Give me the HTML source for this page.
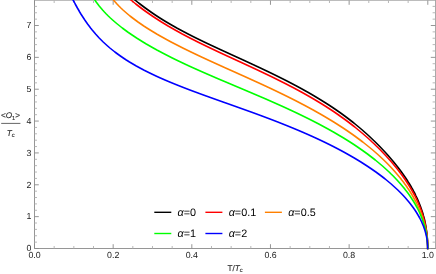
<!DOCTYPE html>
<html><head><meta charset="utf-8"><style>
html,body{margin:0;padding:0;background:#fff;}
svg{display:block;font-family:"Liberation Sans",sans-serif;will-change:transform;text-rendering:geometricPrecision;}
</style></head><body>
<svg width="436" height="274" viewBox="0 0 436 274">
<rect width="436" height="274" fill="#fff"/>
<defs><clipPath id="c"><rect x="34.5" y="0.0" width="401.0" height="249.3"/></clipPath></defs>
<path d="M34.5,0 V248.5 H435.5" fill="none" stroke="#8a8a8a" stroke-width="0.9"/><path d="M435.6,0 V248.95" fill="none" stroke="#959595" stroke-width="0.9"/><path d="M34.0,0.3 H436.0" stroke="#a2a2a2" stroke-width="0.9" fill="none"/>
<path d="M34.50,248.5 v-4.3 M34.50,0.5 v4.3 M113.16,248.5 v-4.3 M113.16,0.5 v4.3 M191.82,248.5 v-4.3 M191.82,0.5 v4.3 M270.48,248.5 v-4.3 M270.48,0.5 v4.3 M349.14,248.5 v-4.3 M349.14,0.5 v4.3 M427.80,248.5 v-4.3 M427.80,0.5 v4.3 M34.5,248.50 h4.3 M435.5,248.50 h-4.7 M34.5,216.64 h4.3 M435.5,216.64 h-4.7 M34.5,184.79 h4.3 M435.5,184.79 h-4.7 M34.5,152.93 h4.3 M435.5,152.93 h-4.7 M34.5,121.07 h4.3 M435.5,121.07 h-4.7 M34.5,89.22 h4.3 M435.5,89.22 h-4.7 M34.5,57.36 h4.3 M435.5,57.36 h-4.7 M34.5,25.50 h4.3 M435.5,25.50 h-4.7" fill="none" stroke="#8a8a8a" stroke-width="0.9"/><path d="M54.17,248.5 v-2.5 M54.17,0.5 v2.5 M73.83,248.5 v-2.5 M73.83,0.5 v2.5 M93.50,248.5 v-2.5 M93.50,0.5 v2.5 M132.82,248.5 v-2.5 M132.82,0.5 v2.5 M152.49,248.5 v-2.5 M152.49,0.5 v2.5 M172.16,248.5 v-2.5 M172.16,0.5 v2.5 M211.49,248.5 v-2.5 M211.49,0.5 v2.5 M231.15,248.5 v-2.5 M231.15,0.5 v2.5 M250.82,248.5 v-2.5 M250.82,0.5 v2.5 M290.14,248.5 v-2.5 M290.14,0.5 v2.5 M309.81,248.5 v-2.5 M309.81,0.5 v2.5 M329.48,248.5 v-2.5 M329.48,0.5 v2.5 M368.81,248.5 v-2.5 M368.81,0.5 v2.5 M388.47,248.5 v-2.5 M388.47,0.5 v2.5 M408.14,248.5 v-2.5 M408.14,0.5 v2.5 M34.5,242.13 h2.5 M435.5,242.13 h-2.9 M34.5,235.76 h2.5 M435.5,235.76 h-2.9 M34.5,229.39 h2.5 M435.5,229.39 h-2.9 M34.5,223.01 h2.5 M435.5,223.01 h-2.9 M34.5,210.27 h2.5 M435.5,210.27 h-2.9 M34.5,203.90 h2.5 M435.5,203.90 h-2.9 M34.5,197.53 h2.5 M435.5,197.53 h-2.9 M34.5,191.16 h2.5 M435.5,191.16 h-2.9 M34.5,178.41 h2.5 M435.5,178.41 h-2.9 M34.5,172.04 h2.5 M435.5,172.04 h-2.9 M34.5,165.67 h2.5 M435.5,165.67 h-2.9 M34.5,159.30 h2.5 M435.5,159.30 h-2.9 M34.5,146.56 h2.5 M435.5,146.56 h-2.9 M34.5,140.19 h2.5 M435.5,140.19 h-2.9 M34.5,133.81 h2.5 M435.5,133.81 h-2.9 M34.5,127.44 h2.5 M435.5,127.44 h-2.9 M34.5,114.70 h2.5 M435.5,114.70 h-2.9 M34.5,108.33 h2.5 M435.5,108.33 h-2.9 M34.5,101.96 h2.5 M435.5,101.96 h-2.9 M34.5,95.59 h2.5 M435.5,95.59 h-2.9 M34.5,82.84 h2.5 M435.5,82.84 h-2.9 M34.5,76.47 h2.5 M435.5,76.47 h-2.9 M34.5,70.10 h2.5 M435.5,70.10 h-2.9 M34.5,63.73 h2.5 M435.5,63.73 h-2.9 M34.5,50.99 h2.5 M435.5,50.99 h-2.9 M34.5,44.62 h2.5 M435.5,44.62 h-2.9 M34.5,38.24 h2.5 M435.5,38.24 h-2.9 M34.5,31.87 h2.5 M435.5,31.87 h-2.9 M34.5,19.13 h2.5 M435.5,19.13 h-2.9 M34.5,12.76 h2.5 M435.5,12.76 h-2.9 M34.5,6.39 h2.5 M435.5,6.39 h-2.9" fill="none" stroke="#b0b0b0" stroke-width="0.9"/>
<g clip-path="url(#c)">
<path d="M131.2,-3.0 L134.9,0.0 L137.4,2.0 L140.0,4.0 L142.6,6.0 L145.3,8.0 L148.1,10.0 L150.9,12.0 L153.8,14.0 L156.8,16.0 L159.9,18.0 L163.1,20.0 L166.4,22.0 L169.8,24.0 L173.3,26.0 L176.8,28.0 L180.5,30.0 L184.3,32.0 L188.1,34.0 L192.0,36.0 L196.0,38.0 L200.1,40.0 L204.2,42.0 L208.4,44.0 L212.7,46.0 L217.0,48.0 L221.3,50.0 L225.7,52.0 L230.0,54.0 L234.4,56.0 L238.8,58.0 L243.2,60.0 L247.5,62.0 L251.8,64.0 L256.1,66.0 L260.4,68.0 L264.6,70.0 L268.8,72.0 L272.9,74.0 L277.0,76.0 L281.0,78.0 L285.0,80.0 L288.9,82.0 L292.7,84.0 L296.5,86.0 L300.2,88.0 L303.8,90.0 L307.4,92.0 L310.9,94.0 L314.3,96.0 L317.6,98.0 L320.9,100.0 L324.1,102.0 L327.3,104.0 L330.4,106.0 L333.4,108.0 L336.3,110.0 L339.2,112.0 L342.0,114.0 L344.7,116.0 L347.4,118.0 L350.0,120.0 L352.6,122.0 L355.1,124.0 L357.5,126.0 L359.9,128.0 L362.3,130.0 L364.5,132.0 L366.8,134.0 L369.0,136.0 L371.1,138.0 L373.2,140.0 L375.3,142.0 L377.3,144.0 L379.3,146.0 L381.2,148.0 L383.1,150.0 L385.0,152.0 L386.8,154.0 L388.6,156.0 L390.3,158.0 L392.0,160.0 L393.7,162.0 L395.3,164.0 L396.9,166.0 L398.5,168.0 L400.0,170.0 L401.5,172.0 L402.9,174.0 L404.3,176.0 L405.7,178.0 L407.0,180.0 L408.2,182.0 L409.5,184.0 L410.7,186.0 L411.8,188.0 L413.0,190.0 L414.0,192.0 L415.1,194.0 L416.0,196.0 L417.0,198.0 L417.9,200.0 L418.7,202.0 L419.5,204.0 L420.3,206.0 L421.0,208.0 L421.7,210.0 L422.4,212.0 L423.0,214.0 L423.5,216.0 L424.1,218.0 L424.6,220.0 L425.0,222.0 L425.4,224.0 L425.8,226.0 L426.1,228.0 L426.4,230.0 L426.7,232.0 L427.0,234.0 L427.2,236.0 L427.3,238.0 L427.5,240.0 L427.6,242.0 L427.6,244.0 L427.7,246.0 L427.7,248.0 L427.7,248.5 L427.7,250.0" stroke="#000000" stroke-width="1.6" fill="none" stroke-linejoin="round"/>
<path d="M127.3,-3.0 L130.9,0.0 L133.4,2.0 L135.8,4.0 L138.4,6.0 L141.0,8.0 L143.7,10.0 L146.5,12.0 L149.4,14.0 L152.3,16.0 L155.3,18.0 L158.4,20.0 L161.5,22.0 L164.8,24.0 L168.1,26.0 L171.6,28.0 L175.1,30.0 L178.7,32.0 L182.3,34.0 L186.1,36.0 L189.9,38.0 L193.9,40.0 L197.8,42.0 L201.9,44.0 L206.0,46.0 L210.2,48.0 L214.4,50.0 L218.6,52.0 L222.9,54.0 L227.2,56.0 L231.6,58.0 L235.9,60.0 L240.3,62.0 L244.6,64.0 L248.9,66.0 L253.2,68.0 L257.5,70.0 L261.7,72.0 L265.9,74.0 L270.1,76.0 L274.2,78.0 L278.2,80.0 L282.2,82.0 L286.2,84.0 L290.0,86.0 L293.9,88.0 L297.6,90.0 L301.3,92.0 L304.9,94.0 L308.4,96.0 L311.9,98.0 L315.3,100.0 L318.6,102.0 L321.9,104.0 L325.1,106.0 L328.2,108.0 L331.3,110.0 L334.3,112.0 L337.2,114.0 L340.0,116.0 L342.8,118.0 L345.6,120.0 L348.3,122.0 L350.9,124.0 L353.5,126.0 L356.0,128.0 L358.4,130.0 L360.8,132.0 L363.2,134.0 L365.5,136.0 L367.8,138.0 L370.0,140.0 L372.1,142.0 L374.3,144.0 L376.3,146.0 L378.4,148.0 L380.4,150.0 L382.3,152.0 L384.2,154.0 L386.1,156.0 L387.9,158.0 L389.7,160.0 L391.5,162.0 L393.2,164.0 L394.8,166.0 L396.5,168.0 L398.1,170.0 L399.6,172.0 L401.1,174.0 L402.6,176.0 L404.0,178.0 L405.4,180.0 L406.7,182.0 L408.0,184.0 L409.3,186.0 L410.5,188.0 L411.7,190.0 L412.8,192.0 L413.9,194.0 L415.0,196.0 L416.0,198.0 L416.9,200.0 L417.8,202.0 L418.7,204.0 L419.5,206.0 L420.3,208.0 L421.1,210.0 L421.8,212.0 L422.4,214.0 L423.1,216.0 L423.6,218.0 L424.2,220.0 L424.7,222.0 L425.1,224.0 L425.5,226.0 L425.9,228.0 L426.3,230.0 L426.6,232.0 L426.8,234.0 L427.1,236.0 L427.3,238.0 L427.4,240.0 L427.5,242.0 L427.6,244.0 L427.7,246.0 L427.7,248.0 L427.7,248.5 L427.7,250.0" stroke="#ff0000" stroke-width="1.6" fill="none" stroke-linejoin="round"/>
<path d="M110.9,-3.0 L113.5,0.0 L115.2,2.0 L117.0,4.0 L118.9,6.0 L120.9,8.0 L123.0,10.0 L125.3,12.0 L127.6,14.0 L130.0,16.0 L132.6,18.0 L135.3,20.0 L138.0,22.0 L140.9,24.0 L143.8,26.0 L146.9,28.0 L150.1,30.0 L153.4,32.0 L156.7,34.0 L160.2,36.0 L163.8,38.0 L167.4,40.0 L171.1,42.0 L175.0,44.0 L178.9,46.0 L182.8,48.0 L186.9,50.0 L191.0,52.0 L195.2,54.0 L199.4,56.0 L203.7,58.0 L208.0,60.0 L212.4,62.0 L216.8,64.0 L221.2,66.0 L225.6,68.0 L230.1,70.0 L234.6,72.0 L239.0,74.0 L243.5,76.0 L247.9,78.0 L252.3,80.0 L256.7,82.0 L261.1,84.0 L265.4,86.0 L269.7,88.0 L273.9,90.0 L278.1,92.0 L282.2,94.0 L286.3,96.0 L290.3,98.0 L294.3,100.0 L298.2,102.0 L302.0,104.0 L305.8,106.0 L309.5,108.0 L313.2,110.0 L316.7,112.0 L320.3,114.0 L323.7,116.0 L327.1,118.0 L330.4,120.0 L333.7,122.0 L336.9,124.0 L340.0,126.0 L343.1,128.0 L346.1,130.0 L349.0,132.0 L351.9,134.0 L354.7,136.0 L357.4,138.0 L360.1,140.0 L362.8,142.0 L365.3,144.0 L367.8,146.0 L370.3,148.0 L372.7,150.0 L375.0,152.0 L377.3,154.0 L379.5,156.0 L381.6,158.0 L383.7,160.0 L385.8,162.0 L387.8,164.0 L389.7,166.0 L391.6,168.0 L393.4,170.0 L395.2,172.0 L396.9,174.0 L398.6,176.0 L400.3,178.0 L401.8,180.0 L403.4,182.0 L404.8,184.0 L406.3,186.0 L407.6,188.0 L409.0,190.0 L410.3,192.0 L411.5,194.0 L412.7,196.0 L413.8,198.0 L414.9,200.0 L416.0,202.0 L417.0,204.0 L417.9,206.0 L418.8,208.0 L419.7,210.0 L420.5,212.0 L421.3,214.0 L422.0,216.0 L422.7,218.0 L423.3,220.0 L423.9,222.0 L424.5,224.0 L425.0,226.0 L425.5,228.0 L425.9,230.0 L426.3,232.0 L426.6,234.0 L426.9,236.0 L427.1,238.0 L427.3,240.0 L427.5,242.0 L427.6,244.0 L427.7,246.0 L427.7,248.0 L427.7,248.5 L427.7,250.0" stroke="#ff8000" stroke-width="1.6" fill="none" stroke-linejoin="round"/>
<path d="M92.8,-3.0 L94.9,0.0 L96.2,2.0 L97.7,4.0 L99.2,6.0 L100.9,8.0 L102.6,10.0 L104.4,12.0 L106.3,14.0 L108.3,16.0 L110.4,18.0 L112.6,20.0 L114.9,22.0 L117.3,24.0 L119.8,26.0 L122.3,28.0 L125.0,30.0 L127.7,32.0 L130.6,34.0 L133.6,36.0 L136.6,38.0 L139.8,40.0 L143.0,42.0 L146.3,44.0 L149.8,46.0 L153.3,48.0 L156.9,50.0 L160.7,52.0 L164.5,54.0 L168.4,56.0 L172.3,58.0 L176.4,60.0 L180.6,62.0 L184.8,64.0 L189.1,66.0 L193.5,68.0 L198.0,70.0 L202.5,72.0 L207.1,74.0 L211.7,76.0 L216.3,78.0 L221.0,80.0 L225.8,82.0 L230.5,84.0 L235.2,86.0 L240.0,88.0 L244.7,90.0 L249.4,92.0 L254.1,94.0 L258.8,96.0 L263.5,98.0 L268.1,100.0 L272.6,102.0 L277.1,104.0 L281.6,106.0 L286.0,108.0 L290.3,110.0 L294.6,112.0 L298.8,114.0 L302.9,116.0 L307.0,118.0 L311.0,120.0 L314.9,122.0 L318.8,124.0 L322.5,126.0 L326.2,128.0 L329.8,130.0 L333.4,132.0 L336.8,134.0 L340.2,136.0 L343.6,138.0 L346.8,140.0 L350.0,142.0 L353.1,144.0 L356.1,146.0 L359.0,148.0 L361.9,150.0 L364.7,152.0 L367.5,154.0 L370.1,156.0 L372.7,158.0 L375.3,160.0 L377.7,162.0 L380.1,164.0 L382.5,166.0 L384.7,168.0 L386.9,170.0 L389.1,172.0 L391.1,174.0 L393.2,176.0 L395.1,178.0 L397.0,180.0 L398.8,182.0 L400.6,184.0 L402.3,186.0 L404.0,188.0 L405.5,190.0 L407.1,192.0 L408.6,194.0 L410.0,196.0 L411.3,198.0 L412.6,200.0 L413.9,202.0 L415.1,204.0 L416.2,206.0 L417.3,208.0 L418.3,210.0 L419.3,212.0 L420.2,214.0 L421.0,216.0 L421.8,218.0 L422.6,220.0 L423.3,222.0 L423.9,224.0 L424.5,226.0 L425.1,228.0 L425.6,230.0 L426.0,232.0 L426.4,234.0 L426.7,236.0 L427.0,238.0 L427.2,240.0 L427.4,242.0 L427.6,244.0 L427.7,246.0 L427.7,248.0 L427.7,248.5 L427.7,250.0" stroke="#00ff00" stroke-width="1.6" fill="none" stroke-linejoin="round"/>
<path d="M71.6,-3.0 L73.1,0.0 L74.2,2.0 L75.2,4.0 L76.3,6.0 L77.4,8.0 L78.6,10.0 L79.7,12.0 L80.9,14.0 L82.2,16.0 L83.5,18.0 L84.8,20.0 L86.2,22.0 L87.6,24.0 L89.1,26.0 L90.6,28.0 L92.2,30.0 L93.9,32.0 L95.6,34.0 L97.4,36.0 L99.2,38.0 L101.2,40.0 L103.2,42.0 L105.4,44.0 L107.6,46.0 L109.9,48.0 L112.4,50.0 L114.9,52.0 L117.6,54.0 L120.4,56.0 L123.3,58.0 L126.3,60.0 L129.5,62.0 L132.9,64.0 L136.3,66.0 L140.0,68.0 L143.7,70.0 L147.7,72.0 L151.8,74.0 L156.0,76.0 L160.4,78.0 L165.0,80.0 L169.7,82.0 L174.6,84.0 L179.6,86.0 L184.7,88.0 L189.9,90.0 L195.3,92.0 L200.7,94.0 L206.2,96.0 L211.8,98.0 L217.4,100.0 L223.0,102.0 L228.7,104.0 L234.3,106.0 L239.9,108.0 L245.5,110.0 L251.1,112.0 L256.6,114.0 L262.0,116.0 L267.3,118.0 L272.6,120.0 L277.8,122.0 L282.8,124.0 L287.8,126.0 L292.7,128.0 L297.5,130.0 L302.2,132.0 L306.8,134.0 L311.3,136.0 L315.7,138.0 L320.0,140.0 L324.2,142.0 L328.3,144.0 L332.3,146.0 L336.2,148.0 L340.0,150.0 L343.7,152.0 L347.3,154.0 L350.8,156.0 L354.3,158.0 L357.6,160.0 L360.9,162.0 L364.0,164.0 L367.1,166.0 L370.1,168.0 L373.0,170.0 L375.9,172.0 L378.6,174.0 L381.3,176.0 L383.9,178.0 L386.4,180.0 L388.8,182.0 L391.2,184.0 L393.4,186.0 L395.6,188.0 L397.8,190.0 L399.8,192.0 L401.8,194.0 L403.7,196.0 L405.5,198.0 L407.2,200.0 L408.9,202.0 L410.5,204.0 L412.0,206.0 L413.5,208.0 L414.9,210.0 L416.2,212.0 L417.4,214.0 L418.6,216.0 L419.7,218.0 L420.7,220.0 L421.7,222.0 L422.5,224.0 L423.4,226.0 L424.1,228.0 L424.8,230.0 L425.4,232.0 L425.9,234.0 L426.4,236.0 L426.8,238.0 L427.1,240.0 L427.3,242.0 L427.5,244.0 L427.6,246.0 L427.7,248.0 L427.7,248.5 L427.7,250.0" stroke="#0000ff" stroke-width="1.6" fill="none" stroke-linejoin="round"/>
</g>
<g font-size="8.8" fill="#1a1a1a">
<text x="34.5" y="258" text-anchor="middle">0.0</text>
<text x="113.2" y="258" text-anchor="middle">0.2</text>
<text x="191.8" y="258" text-anchor="middle">0.4</text>
<text x="270.5" y="258" text-anchor="middle">0.6</text>
<text x="349.1" y="258" text-anchor="middle">0.8</text>
<text x="427.8" y="258" text-anchor="middle">1.0</text>
<text  x="31.5" y="250.8" text-anchor="end">0</text>
<text  x="31.5" y="219.3" text-anchor="end">1</text>
<text  x="31.5" y="187.5" text-anchor="end">2</text>
<text  x="31.5" y="155.6" text-anchor="end">3</text>
<text  x="31.5" y="123.8" text-anchor="end">4</text>
<text  x="31.5" y="91.9" text-anchor="end">5</text>
<text  x="31.5" y="60.1" text-anchor="end">6</text>
<text  x="31.5" y="28.2" text-anchor="end">7</text>
</g>
<g fill="#2b2b2b" font-size="8.2" stroke="#2b2b2b" stroke-width="0.12">
<text x="10.5" y="118.4" text-anchor="middle">&lt;<tspan font-style="italic">O</tspan><tspan font-size="5.8" dy="1.2">1</tspan><tspan dy="-1.2">&gt;</tspan></text>
<line x1="1.2" y1="123.4" x2="20.4" y2="123.4" stroke="#555" stroke-width="0.9"/>
<text x="10.7" y="135.6" text-anchor="middle"><tspan font-style="italic">T</tspan><tspan font-size="5.8" font-style="italic" dy="1.3">c</tspan></text>
<text x="235" y="270.8" text-anchor="middle">T/<tspan font-style="italic">T</tspan><tspan font-size="5.8" font-style="italic" dy="1.4">c</tspan></text>
</g>
<line x1="154.3" y1="212.3" x2="171.3" y2="212.3" stroke="#000000" stroke-width="1.4"/><text x="177.6" y="216.0" font-size="10.8" fill="#000"><tspan font-style="italic">α</tspan>=0</text>
<line x1="205.4" y1="212.3" x2="222.4" y2="212.3" stroke="#ff0000" stroke-width="1.4"/><text x="228.7" y="216.0" font-size="10.8" fill="#000"><tspan font-style="italic">α</tspan>=0.1</text>
<line x1="264.9" y1="212.3" x2="281.9" y2="212.3" stroke="#ff8000" stroke-width="1.4"/><text x="288.2" y="216.0" font-size="10.8" fill="#000"><tspan font-style="italic">α</tspan>=0.5</text>
<line x1="154.3" y1="233.5" x2="171.3" y2="233.5" stroke="#00ff00" stroke-width="1.4"/><text x="177.6" y="237.2" font-size="10.8" fill="#000"><tspan font-style="italic">α</tspan>=1</text>
<line x1="205.4" y1="233.5" x2="222.4" y2="233.5" stroke="#0000ff" stroke-width="1.4"/><text x="228.7" y="237.2" font-size="10.8" fill="#000"><tspan font-style="italic">α</tspan>=2</text>
</svg>
</body></html>
